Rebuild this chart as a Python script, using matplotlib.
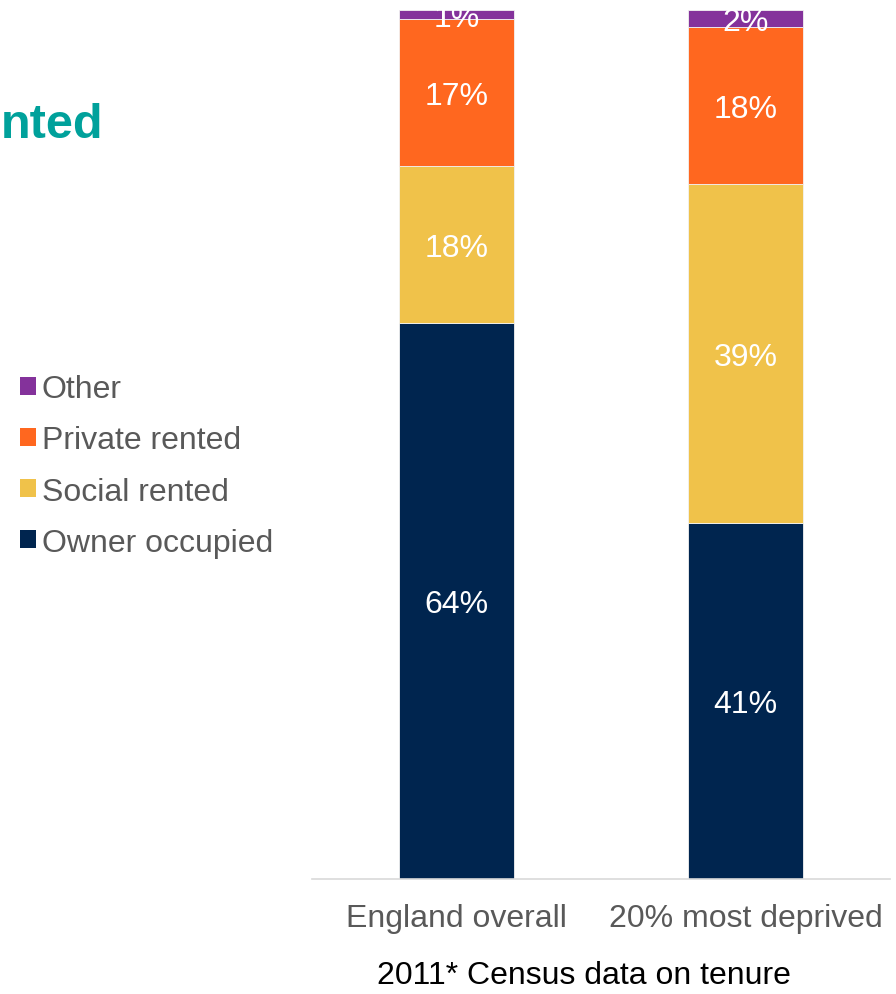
import matplotlib
matplotlib.use("Agg")
import matplotlib.pyplot as plt
from matplotlib.patches import Patch

plt.rcParams['font.family'] = ['Liberation Sans', 'DejaVu Sans']

categories = ["England overall", "20% most deprived"]
series_names = ["Owner occupied", "Social rented", "Private rented", "Other"]
owner_occupied = [64, 41]
social_rented = [18, 39]
private_rented = [17, 18]
other = [1, 2]
series_values = [owner_occupied, social_rented, private_rented, other]
colors = ["#00254F", "#F0C24A", "#FF671F", "#84329B"]

title_text = "nted"
caption = "2011* Census data on tenure"

FS = 23
W, H = 896, 995
fig = plt.figure(figsize=(W / 100, H / 100), dpi=100)
ax = fig.add_axes([312 / W, (H - 880) / H, (890 - 312) / W, (880 - 11) / H])

x = list(range(len(categories)))
bottoms = [0] * len(categories)
for name, vals, col in zip(series_names, series_values, colors):
    ax.bar(x, vals, width=0.4, bottom=bottoms, color=col, label=name,
           edgecolor="#f2f2f2", linewidth=0.6, zorder=2)
    for xi, v, b in zip(x, vals, bottoms):
        ax.annotate(f"{v}%", (xi, b + v / 2), xytext=(0, -2.5), textcoords="offset points",
                    ha="center", va="center", color="white", fontsize=FS,
                    zorder=3, annotation_clip=False)
    bottoms = [b + v for b, v in zip(bottoms, vals)]

ax.set_xlim(-0.5, 1.5)
ax.set_ylim(0, 100)
ax.set_yticks([])
ax.set_xticks(x)
ax.set_xticklabels(categories, fontsize=FS, color="#595959")
ax.tick_params(axis="x", length=0, pad=17)
for s in ["top", "right", "left"]:
    ax.spines[s].set_visible(False)
ax.spines["bottom"].set_color("#d9d9d9")
ax.spines["bottom"].set_linewidth(1.2)

handles = [Patch(facecolor=c, label=n) for n, c in zip(series_names, colors)][::-1]
fig.legend(handles=handles, loc="center left", bbox_to_anchor=(7 / W, 1 - 467 / H),
           frameon=False, fontsize=FS, labelcolor="#595959",
           handlelength=0.5, handleheight=0.5, handletextpad=0.18,
           labelspacing=0.66, borderaxespad=0)

fig.text(103 / W, 1 - 125 / H, title_text, ha="right", va="center",
         fontsize=35, fontweight="bold", color="#00A19B")
fig.text(584 / W, 1 - 976 / H, caption, ha="center", va="center",
         fontsize=FS, color="black")

fig.savefig("out.png", dpi=100)
